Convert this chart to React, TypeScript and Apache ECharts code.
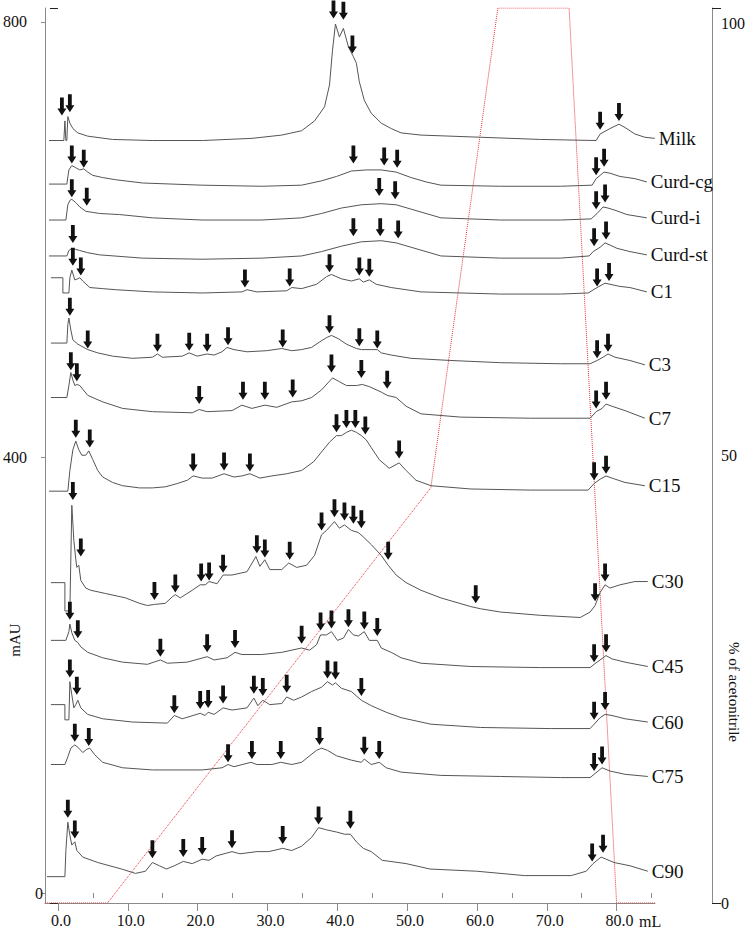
import React, { useEffect, useRef } from "react";
import * as echarts from "echarts";

type P = [number, number];

// x axis (mL) tick labels and ticks
const xLabelValues = [0, 10, 20, 30, 40, 50, 60, 70, 80];
const xMinorTicks = [5, 15, 25, 35, 45, 55, 65, 75, 85];
const mauTicks = [0, 400, 800];
const pctLabels = [0, 50, 100];
const pctTicks = [0, 100];

// acetonitrile gradient (% vs mL)
const gradient: P[] = [[-1.85, 0], [7.1, 0], [53.4, 46.4], [63.0, 100], [73.2, 100], [80.0, 0], [85.5, 0]];

// chromatograms: [mL, mAU]
const milk: P[] = [[-1.28, 691], [0.85, 691], [1.0, 709], [1.14, 691], [1.28, 691], [1.42, 713], [1.71, 707], [2.14, 702], [2.85, 698], [4.27, 695], [7.83, 692], [13.5, 691], [20.7, 691], [27.8, 693], [32.05, 696], [34.9, 700], [36.75, 709], [38.18, 722], [38.89, 742], [39.32, 774], [39.74, 798], [40.31, 786], [40.88, 794], [41.6, 777], [42.31, 768], [42.74, 762], [43.16, 745], [43.87, 728], [44.87, 716], [46.3, 707], [47.72, 702], [49.15, 698], [51.99, 696], [60.54, 694], [69.09, 692], [77.07, 691], [77.64, 697], [79.06, 702], [80.34, 706], [81.2, 703], [82.62, 697], [84.05, 694], [85.47, 693]];
const milkArrows: P[] = [[0.57, 714], [1.71, 717], [39.46, 803], [40.88, 802], [42.17, 771], [77.64, 701], [80.34, 709]];

const curdCg: P[] = [[-1.28, 651], [1.28, 651], [1.57, 664], [1.99, 668], [2.56, 666], [3.13, 664], [3.7, 665], [4.27, 662], [4.99, 659], [6.41, 657], [8.26, 655], [12.11, 652], [20.66, 650], [29.2, 649], [34.9, 650], [37.75, 654], [39.89, 658], [42.02, 663], [44.16, 664], [46.3, 664], [48.43, 662], [50.57, 657], [52.71, 653], [54.84, 650], [63.39, 649], [71.94, 649], [76.5, 650], [77.07, 656], [77.64, 659], [78.21, 662], [79.06, 661], [80.48, 658], [82.62, 656], [84.33, 653]];
const curdCgArrows: P[] = [[1.99, 670], [3.7, 666], [42.31, 670], [46.72, 668], [48.58, 666], [77.07, 659], [78.21, 667]];

const curdI: P[] = [[-1.28, 618], [1.14, 618], [1.42, 632], [1.71, 636], [1.99, 637], [2.56, 634], [3.13, 630], [3.99, 626], [4.99, 625], [5.98, 624], [8.83, 623], [13.53, 620], [20.66, 618], [29.2, 618], [34.9, 620], [37.75, 624], [40.6, 629], [43.45, 632], [46.3, 633], [48.43, 632], [50.57, 628], [52.71, 624], [54.84, 620], [63.39, 618], [71.94, 618], [76.35, 619], [77.21, 624], [78.06, 630], [78.77, 629], [79.77, 627], [81.48, 623], [84.33, 620]];
const curdIArrows: P[] = [[1.99, 639], [4.13, 631], [46.01, 640], [48.29, 637], [77.07, 628], [78.35, 634]];

const curdSt: P[] = [[-1.28, 585], [1.28, 585], [1.57, 590], [1.99, 592], [2.56, 591], [3.13, 590], [4.27, 588], [5.98, 586], [12.11, 583], [20.66, 582], [29.2, 583], [34.9, 585], [37.75, 589], [40.6, 594], [43.45, 598], [46.3, 599], [48.43, 597], [50.57, 593], [52.71, 589], [54.84, 585], [63.39, 583], [71.94, 583], [76.07, 585], [76.64, 589], [77.64, 593], [78.35, 597], [79.06, 595], [80.06, 592], [81.91, 589], [84.33, 586]];
const curdStArrows: P[] = [[2.14, 597], [42.31, 603], [46.15, 603], [48.72, 601], [76.78, 594], [78.49, 600]];

const c1: P[] = [[-1.0, 565], [0.71, 565], [0.71, 551], [1.57, 551], [1.71, 565], [1.99, 572], [2.42, 563], [2.85, 564], [3.13, 565], [3.56, 562], [4.56, 556], [6.41, 555], [8.26, 554], [13.53, 552], [20.66, 551], [26.35, 552], [27.07, 554], [28.49, 552], [32.76, 553], [33.48, 556], [34.9, 555], [37.04, 559], [38.46, 566], [39.17, 568], [40.6, 564], [42.02, 562], [43.16, 564], [43.73, 561], [44.59, 563], [45.58, 559], [47.72, 556], [51.99, 552], [63.39, 550], [71.94, 550], [75.93, 551], [77.21, 556], [78.35, 560], [79.06, 559], [80.48, 557], [81.91, 556], [84.33, 552]];
const c1Arrows: P[] = [[2.14, 576], [3.28, 567], [26.78, 556], [33.19, 557], [38.89, 570], [43.16, 567], [44.59, 566], [77.21, 557], [78.92, 562]];

const c3: P[] = [[-1.0, 505], [1.28, 505], [1.42, 522], [1.57, 528], [1.85, 517], [2.14, 508], [2.85, 504], [4.27, 499], [5.7, 496], [7.83, 493], [10.68, 491], [13.53, 492], [14.25, 495], [14.96, 492], [17.81, 493], [18.8, 496], [19.94, 493], [21.37, 495], [22.36, 494], [23.5, 497], [24.22, 501], [25.21, 499], [27.07, 497], [29.91, 498], [32.05, 500], [33.48, 498], [34.9, 499], [36.32, 501], [37.46, 506], [38.46, 510], [39.17, 512], [40.17, 509], [41.31, 504], [42.74, 500], [43.45, 499], [44.87, 499], [45.73, 499], [46.3, 496], [47.72, 494], [50.57, 491], [56.27, 489], [63.39, 487], [71.94, 486], [76.21, 486], [77.21, 489], [78.06, 492], [78.77, 495], [79.77, 492], [81.91, 489], [84.05, 485]];
const c3Arrows: P[] = [[1.71, 530], [4.27, 500], [14.25, 497], [18.8, 498], [21.37, 497], [24.36, 503], [32.19, 501], [38.89, 514], [43.16, 502], [45.73, 500], [77.21, 491], [78.77, 497]];

const c7: P[] = [[-1.0, 455], [1.28, 455], [1.57, 466], [1.85, 478], [2.14, 471], [2.42, 466], [2.71, 467], [3.13, 466], [4.27, 457], [6.41, 451], [9.26, 445], [13.53, 442], [19.23, 441], [20.23, 444], [21.37, 442], [24.93, 443], [26.35, 448], [27.78, 445], [29.63, 448], [31.34, 446], [33.48, 451], [34.9, 452], [36.32, 455], [37.75, 462], [38.75, 469], [39.32, 473], [40.17, 470], [41.31, 466], [42.74, 466], [43.59, 467], [44.59, 465], [46.3, 460], [47.15, 457], [48.43, 455], [49.86, 447], [51.99, 440], [57.69, 437], [67.66, 436], [76.21, 436], [77.07, 442], [77.92, 445], [78.49, 449], [79.34, 447], [81.2, 443], [84.05, 436]];
const c7Arrows: P[] = [[1.85, 480], [2.71, 470], [20.23, 449], [26.5, 453], [29.63, 453], [33.62, 455], [39.17, 478], [43.45, 473], [47.15, 463], [77.07, 445], [78.49, 453]];

const c15: P[] = [[-1.28, 369], [1.42, 369], [1.71, 388], [2.14, 407], [2.56, 415], [2.99, 407], [3.42, 402], [3.99, 402], [4.42, 406], [4.99, 398], [5.7, 388], [6.41, 382], [7.83, 377], [9.26, 374], [11.68, 372], [13.53, 372], [15.38, 373], [17.09, 376], [18.52, 379], [19.37, 383], [20.66, 381], [22.08, 381], [23.79, 385], [25.21, 382], [26.35, 383], [27.49, 385], [28.92, 381], [30.63, 383], [32.76, 385], [34.9, 388], [36.61, 396], [37.75, 405], [38.89, 414], [39.89, 420], [40.6, 420], [41.31, 423], [42.02, 425], [42.74, 423], [43.45, 420], [44.16, 416], [44.87, 409], [46.01, 398], [47.44, 390], [48.86, 395], [49.86, 388], [51.28, 379], [53.42, 374], [59.12, 371], [67.66, 370], [75.93, 370], [76.78, 376], [77.64, 380], [78.49, 383], [79.34, 381], [81.2, 377], [84.05, 374]];
const c15Arrows: P[] = [[2.56, 418], [4.56, 409], [19.37, 387], [23.79, 388], [27.49, 387], [39.89, 423], [41.31, 427], [42.59, 427], [44.02, 421], [48.86, 399], [76.78, 379], [78.49, 385]];

const c30: P[] = [[-1.0, 285], [1.0, 285], [1.0, 259], [1.71, 259], [1.99, 356], [2.28, 324], [2.56, 306], [2.71, 299], [2.99, 301], [3.28, 287], [3.99, 280], [4.7, 278], [6.84, 275], [9.69, 271], [11.68, 266], [12.82, 264], [13.82, 265], [15.38, 266], [16.38, 272], [16.81, 274], [17.52, 271], [19.23, 278], [20.37, 283], [21.08, 283], [21.65, 286], [22.79, 284], [23.65, 292], [24.93, 292], [27.07, 295], [28.35, 309], [28.92, 300], [29.63, 306], [30.34, 297], [32.05, 297], [33.05, 303], [34.19, 299], [35.61, 301], [36.75, 310], [37.75, 329], [38.46, 333], [39.6, 341], [40.31, 335], [41.03, 338], [42.02, 333], [43.02, 331], [43.73, 327], [44.87, 320], [46.3, 310], [47.29, 301], [48.43, 292], [49.86, 285], [51.99, 278], [54.84, 271], [59.12, 263], [60.54, 261], [63.39, 258], [69.09, 255], [74.79, 253], [76.21, 258], [76.92, 264], [77.64, 276], [78.35, 283], [79.06, 280], [80.48, 283], [82.62, 286], [84.47, 286]];
const c30Arrows: P[] = [[2.14, 361], [3.28, 309], [13.82, 269], [16.81, 276], [20.51, 286], [21.65, 287], [23.65, 294], [28.49, 312], [29.63, 308], [33.19, 306], [37.75, 333], [39.6, 345], [41.03, 342], [42.31, 339], [43.45, 335], [47.29, 306], [59.83, 266], [76.92, 268], [78.35, 286]];

const c45: P[] = [[-1.0, 232], [1.14, 232], [1.57, 240], [1.71, 247], [1.99, 239], [2.42, 232], [2.85, 230], [3.28, 226], [4.27, 221], [6.41, 216], [9.26, 212], [12.82, 210], [14.67, 214], [15.67, 211], [18.52, 212], [21.37, 217], [22.36, 214], [24.22, 216], [25.36, 221], [26.35, 219], [29.2, 219], [32.05, 221], [34.9, 225], [36.04, 223], [37.04, 228], [37.61, 237], [38.46, 237], [39.17, 240], [40.03, 232], [40.88, 234], [41.6, 242], [42.31, 237], [43.02, 236], [43.87, 240], [44.59, 232], [45.73, 232], [46.3, 225], [47.72, 221], [49.15, 216], [51.99, 211], [59.12, 208], [69.09, 207], [76.21, 207], [76.78, 210], [77.64, 214], [78.49, 218], [79.34, 215], [81.2, 212], [84.47, 208]];
const c45Arrows: P[] = [[1.71, 251], [2.85, 234], [14.67, 217], [21.37, 221], [25.36, 225], [34.9, 229], [37.61, 241], [39.17, 243], [41.6, 244], [43.87, 242], [45.73, 236], [76.78, 212], [78.49, 221]];

const c60: P[] = [[-1.0, 173], [1.0, 173], [1.0, 159], [1.57, 159], [1.71, 194], [1.99, 182], [2.28, 170], [2.56, 173], [2.85, 177], [3.28, 170], [4.27, 164], [6.41, 160], [10.68, 157], [15.67, 156], [16.67, 163], [17.81, 160], [20.37, 165], [21.08, 163], [21.51, 166], [22.36, 164], [23.65, 170], [24.93, 168], [27.07, 170], [28.06, 179], [28.63, 172], [29.34, 177], [30.34, 173], [32.05, 174], [32.76, 180], [33.76, 177], [34.9, 180], [36.32, 185], [37.75, 189], [38.6, 194], [39.32, 191], [39.74, 193], [40.6, 188], [42.02, 185], [43.45, 177], [44.87, 172], [47.01, 166], [49.15, 161], [53.42, 155], [60.54, 152], [70.51, 151], [76.21, 151], [76.78, 155], [77.64, 161], [78.35, 164], [79.34, 163], [81.2, 160], [84.47, 157]];
const c60Arrows: P[] = [[1.71, 198], [2.71, 182], [16.67, 165], [20.37, 169], [21.51, 170], [23.65, 174], [28.06, 183], [29.34, 181], [32.76, 184], [38.6, 197], [39.74, 196], [43.45, 181], [76.78, 159], [78.35, 168]];

const c75: P[] = [[-1.0, 118], [1.0, 118], [1.42, 125], [1.85, 133], [2.42, 136], [2.99, 133], [3.56, 129], [4.13, 132], [4.56, 133], [5.27, 127], [6.41, 120], [9.26, 115], [13.53, 113], [20.66, 113], [23.5, 115], [24.36, 118], [25.21, 116], [27.64, 120], [28.49, 118], [30.63, 118], [31.91, 120], [33.48, 118], [34.9, 120], [36.04, 126], [37.04, 131], [37.75, 133], [38.6, 131], [39.89, 126], [42.02, 122], [43.45, 120], [43.87, 123], [44.87, 118], [46.01, 120], [47.01, 115], [49.15, 111], [54.84, 108], [63.39, 107], [71.94, 106], [76.21, 106], [76.78, 109], [77.35, 112], [77.92, 115], [79.06, 112], [81.2, 109], [84.47, 107]];
const c75Arrows: P[] = [[2.42, 139], [4.42, 135], [24.36, 120], [27.78, 123], [31.91, 123], [37.46, 136], [43.87, 127], [46.01, 123], [76.78, 112], [77.92, 118]];

const c90: P[] = [[-1.57, 15], [1.0, 15], [1.14, 39], [1.42, 65], [1.71, 53], [1.99, 44], [2.42, 47], [2.71, 39], [3.56, 33], [5.7, 28], [9.12, 22], [11.11, 18], [12.54, 20], [13.53, 28], [14.53, 25], [15.53, 22], [16.67, 25], [17.95, 29], [19.23, 27], [20.66, 31], [21.65, 30], [22.65, 34], [24.93, 38], [26.07, 36], [28.49, 38], [30.2, 38], [32.19, 41], [33.48, 39], [34.9, 43], [36.32, 51], [37.32, 60], [38.46, 58], [39.89, 56], [41.03, 54], [41.88, 54], [42.74, 47], [43.73, 41], [44.87, 38], [46.44, 30], [49.86, 27], [53.28, 22], [59.97, 20], [66.81, 16], [73.5, 16], [75.64, 20], [76.64, 27], [77.78, 33], [79.63, 28], [81.91, 25], [84.47, 20]];
const c90Arrows: P[] = [[1.42, 69], [2.42, 50], [13.53, 32], [17.95, 33], [20.66, 35], [24.93, 41], [32.19, 45], [37.32, 63], [41.88, 59], [76.5, 29], [78.06, 37]];

const traceNames = ["Milk", "Curd-cg", "Curd-i", "Curd-st", "C1", "C3", "C7", "C15", "C30", "C45", "C60", "C75", "C90"];
const traceData = [milk, curdCg, curdI, curdSt, c1, c3, c7, c15, c30, c45, c60, c75, c90];
const arrowData = [milkArrows, curdCgArrows, curdIArrows, curdStArrows, c1Arrows, c3Arrows, c7Arrows, c15Arrows, c30Arrows, c45Arrows, c60Arrows, c75Arrows, c90Arrows];

const SERIF = "'Liberation Serif', 'Times New Roman', serif";
const ARROW = "path://M2.6,0 L6.4,0 L6.4,11 L9,11 L4.5,18 L0,11 L2.6,11 Z";

export default function App() {
  const ref = useRef<HTMLDivElement>(null);
  useEffect(() => {
    if (!ref.current) return;
    const chart = echarts.init(ref.current, null, { renderer: "svg" });
    const lineSeries = traceData.map((d, i) => ({
      type: "line",
      name: traceNames[i],
      data: d,
      xAxisIndex: 0,
      yAxisIndex: 0,
      showSymbol: false,
      silent: true,
      z: 3,
      lineStyle: { color: "#555555", width: 1 },
      endLabel: {
        show: true,
        formatter: () => traceNames[i],
        distance: 4,
        color: "#111",
        fontFamily: SERIF,
        fontSize: 19,
      },
    }));
    const allArrows: P[] = [];
    arrowData.forEach((a) => a.forEach((p) => allArrows.push(p)));
    chart.setOption({
      animation: false,
      backgroundColor: "#fff",
      grid: { left: 42, right: 95, top: 8, bottom: 26, containLabel: false },
      xAxis: [
        {
          type: "value",
          min: -1.85,
          max: 85.5,
          position: "bottom",
          splitLine: { show: false },
          axisLine: { show: true, onZero: false, lineStyle: { color: "#8a8a8a", width: 1 } },
          axisTick: { show: true, customValues: xLabelValues, length: 8, lineStyle: { color: "#8a8a8a" } },
          axisLabel: {
            customValues: xLabelValues,
            formatter: (v: number) => v.toFixed(1),
            fontFamily: SERIF,
            fontSize: 16,
            color: "#111",
            margin: 9,
            padding: [0, 0, 0, 6],
          },
        },
        {
          type: "value",
          min: -1.85,
          max: 85.5,
          position: "bottom",
          splitLine: { show: false },
          axisLine: { show: false },
          axisLabel: { show: false },
          axisTick: { show: true, customValues: xMinorTicks, length: 5, lineStyle: { color: "#8a8a8a" } },
        },
      ],
      yAxis: [
        {
          type: "value",
          position: "left",
          min: -9.18,
          max: 812.7,
          splitLine: { show: false },
          axisLine: { show: true, onZero: false, lineStyle: { color: "#8a8a8a", width: 1 } },
          axisTick: { show: true, customValues: mauTicks, length: 4, lineStyle: { color: "#8a8a8a" } },
          axisLabel: {
            customValues: mauTicks,
            margin: 2,
            formatter: (v: number) => (v === 0 ? "{z|0}" : "{n|" + v + "}"),
            rich: {
              z: { fontFamily: SERIF, fontSize: 16, color: "#111" },
              n: { fontFamily: SERIF, fontSize: 16, color: "#111", padding: [0, 16, 0, 0] },
            },
          },
        },
        {
          type: "value",
          position: "right",
          offset: 57,
          min: 0,
          max: 100,
          splitLine: { show: false },
          axisLine: { show: true, onZero: false, lineStyle: { color: "#8a8a8a", width: 1 } },
          axisTick: { show: true, customValues: pctTicks, length: 9, lineStyle: { color: "#222" } },
          axisLabel: {
            customValues: pctLabels,
            margin: 9,
            formatter: (v: number) => (v === 100 ? "{t|100}" : "{n|" + v + "}"),
            rich: {
              t: { fontFamily: SERIF, fontSize: 16, color: "#111", padding: [30, 0, 0, 0] },
              n: { fontFamily: SERIF, fontSize: 16, color: "#111" },
            },
          },
        },
        {
          type: "value",
          position: "right",
          offset: 57,
          min: 0,
          max: 100,
          splitLine: { show: false },
          axisLine: { show: false },
          axisLabel: { show: false },
          axisTick: { show: true, inside: true, customValues: pctTicks, length: 8, lineStyle: { color: "#222" } },
        },
      ],
      graphic: [
        {
          type: "text",
          x: 15,
          y: 640,
          rotation: Math.PI / 2,
          style: { text: "mAU", font: "15px " + SERIF, fill: "#111", align: "center", verticalAlign: "middle" },
        },
        {
          type: "text",
          x: 734,
          y: 692,
          rotation: -Math.PI / 2,
          style: { text: "% of acetonitrile", font: "15px " + SERIF, fill: "#111", align: "center", verticalAlign: "middle" },
        },
        {
          type: "text",
          x: 639,
          y: 921,
          style: { text: "mL", font: "16px " + SERIF, fill: "#111", align: "left", verticalAlign: "middle" },
        },
      ],
      series: [
        {
          type: "line",
          name: "gradient",
          data: gradient,
          xAxisIndex: 0,
          yAxisIndex: 1,
          showSymbol: false,
          silent: true,
          z: 2,
          lineStyle: { color: "#e8343c", width: 1, type: "dotted" },
        },
        ...lineSeries,
        {
          type: "scatter",
          name: "arrows",
          data: allArrows,
          xAxisIndex: 0,
          yAxisIndex: 0,
          symbol: ARROW,
          symbolSize: [9, 18],
          symbolOffset: [0, -9],
          silent: true,
          z: 5,
          itemStyle: { color: "#111", opacity: 1 },
        },
      ],
    });
    return () => chart.dispose();
  }, []);
  return (
    <div
      ref={ref}
      style={{ position: "absolute", left: 0, top: 0, width: 750, height: 929, background: "#fff" }}
    />
  );
}
